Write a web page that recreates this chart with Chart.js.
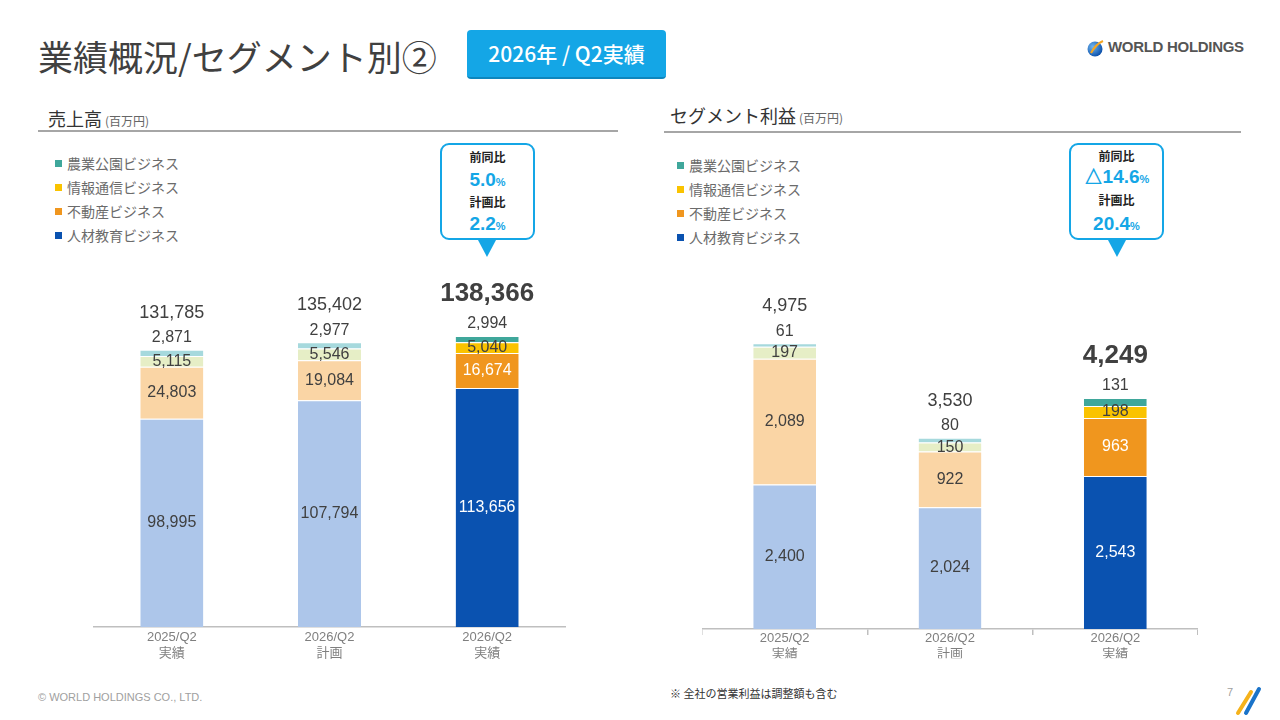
<!DOCTYPE html>
<html lang="ja">
<head>
<meta charset="utf-8">
<title>業績概況/セグメント別②</title>
<script src="https://cdn.jsdelivr.net/npm/chart.js@4.4.1/dist/chart.umd.min.js"></script>
<style>
  body { margin: 0; }
  #slide { position: relative; width: 1280px; height: 720px; background: #fff; overflow: hidden;
           font-family: "Noto Sans CJK JP", "Liberation Sans", sans-serif; color: #404040; }
  .abs { position: absolute; white-space: nowrap; }
  #title { left: 38px; top: 37px; font-size: 35px; line-height: 38px; color: #404040; }
  #badge { left: 467px; top: 30px; width: 199px; height: 47px; background: #14a6e6; border-radius: 4px;
           border-bottom: 2px solid #0d86bd; color: #fff; font-size: 21px; font-weight: 500; line-height: 47px; text-align: center; }
  #logo { left: 1087px; top: 38px; height: 20px; }
  #logo .txt { position: absolute; left: 21px; top: 0px; font-family: "Liberation Sans", sans-serif; font-weight: bold;
               font-size: 15px; color: #555; letter-spacing: -0.3px; }
  .sec { font-size: 18px; line-height: 22px; color: #333; }
  .sec small { font-size: 12px; color: #666; margin-left: 3px; }
  .rule { height: 2px; background: #a6a6a6; }
  .leg { font-size: 14px; line-height: 18px; color: #6b6b6b; }
  .leg i { display: inline-block; width: 7px; height: 7px; margin-right: 5px; vertical-align: 2px; }
  .call { width: 91px; height: 93px; border: 2px solid #14a6e6; border-radius: 9px; background: #fff; }
  .call div { position: absolute; left: 0; width: 91px; text-align: center; }
  .call .h { font-size: 12px; font-weight: bold; color: #222; line-height: 16px; }
  .call .v { font-family: "Liberation Sans", sans-serif; font-size: 19px; font-weight: bold; color: #14a6e6; line-height: 22px; }
  .call .v span { font-size: 11px; }
  .ptr { width: 0; height: 0; border-left: 9px solid transparent; border-right: 9px solid transparent; border-top: 17px solid #14a6e6; }
  canvas { position: absolute; }
  .foot { font-size: 11px; color: #a0a0a0; }
</style>
</head>
<body>
<div id="slide">
  <div id="title" class="abs">業績概況/セグメント別②</div>
  <div id="badge" class="abs">2026年 / Q2実績</div>
  <div id="logo" class="abs">
    <svg width="18" height="20" style="position:absolute;left:0;top:0">
      <defs><radialGradient id="g" cx="35%" cy="35%" r="70%"><stop offset="0" stop-color="#6fb6f0"/><stop offset="1" stop-color="#0a4ea8"/></radialGradient></defs>
      <circle cx="8" cy="11" r="7.5" fill="url(#g)"/>
      <path d="M4 15 Q9 6 16 3" stroke="#f5a623" stroke-width="2.2" fill="none"/>
    </svg>
    <span class="txt">WORLD HOLDINGS</span>
  </div>

  <div class="abs sec" style="left:48px;top:107px">売上高<small>(百万円)</small></div>
  <div class="abs rule" style="left:38px;top:130px;width:580px"></div>
  <div class="abs sec" style="left:670px;top:104px">セグメント利益<small>(百万円)</small></div>
  <div class="abs rule" style="left:664px;top:131px;width:577px"></div>

  <div class="abs leg" style="left:55px;top:154px">
    <div style="height:24px"><i style="background:#3fa79b"></i>農業公園ビジネス</div>
    <div style="height:24px"><i style="background:#fac300"></i>情報通信ビジネス</div>
    <div style="height:24px"><i style="background:#f0961e"></i>不動産ビジネス</div>
    <div style="height:24px"><i style="background:#0a52b0"></i>人材教育ビジネス</div>
  </div>
  <div class="abs leg" style="left:677px;top:156px">
    <div style="height:24px"><i style="background:#3fa79b"></i>農業公園ビジネス</div>
    <div style="height:24px"><i style="background:#fac300"></i>情報通信ビジネス</div>
    <div style="height:24px"><i style="background:#f0961e"></i>不動産ビジネス</div>
    <div style="height:24px"><i style="background:#0a52b0"></i>人材教育ビジネス</div>
  </div>

  <div class="abs call" style="left:440px;top:143px">
    <div class="h" style="top:4px">前同比</div>
    <div class="v" style="top:24px">5.0<span>%</span></div>
    <div class="h" style="top:49px">計画比</div>
    <div class="v" style="top:68px">2.2<span>%</span></div>
  </div>
  <div class="abs ptr" style="left:478px;top:240px"></div>
  <div class="abs call" style="left:1069px;top:143px">
    <div class="h" style="top:3px">前同比</div>
    <div class="v" style="top:21px">△14.6<span>%</span></div>
    <div class="h" style="top:47px">計画比</div>
    <div class="v" style="top:68px">20.4<span>%</span></div>
  </div>
  <div class="abs ptr" style="left:1108px;top:240px"></div>

  <canvas id="sales" width="473" height="420" style="left:93px;top:260px"></canvas>
  <canvas id="profit" width="496" height="410" style="left:702px;top:270px"></canvas>

  <div class="abs foot" style="left:38px;top:691px;font-family:'Liberation Sans',sans-serif">© WORLD HOLDINGS CO., LTD.</div>
  <div class="abs" style="left:670px;top:685px;font-size:11px;color:#333">※ 全社の営業利益は調整額も含む</div>
  <div class="abs foot" style="left:1227px;top:686px;font-family:'Liberation Sans',sans-serif">7</div>
  <svg class="abs" style="left:1234px;top:684px" width="30" height="32">
    <line x1="4" y1="29" x2="17" y2="8" stroke="#f5b21b" stroke-width="4" stroke-linecap="round"/>
    <line x1="12" y1="29" x2="25" y2="5" stroke="#1a73c9" stroke-width="4" stroke-linecap="round"/>
  </svg>
</div>

<script>
const categories = [['2025/Q2', '実績'], ['2026/Q2', '計画'], ['2026/Q2', '実績']];
const segmentNames = ['人材教育ビジネス', '不動産ビジネス', '情報通信ビジネス', '農業公園ビジネス'];

// 売上高 (百万円)
const salesJinzai = [98995, 107794, 113656];
const salesFudosan = [24803, 19084, 16674];
const salesJoho = [5115, 5546, 5040];
const salesNogyo = [2871, 2977, 2994];
const salesTotal = [131785, 135402, 138366];

// セグメント利益 (百万円)
const profitJinzai = [2400, 2024, 2543];
const profitFudosan = [2089, 922, 963];
const profitJoho = [197, 150, 198];
const profitNogyo = [61, 80, 131];
const profitTotal = [4975, 3530, 4249];

// light = 2025実績 / 2026計画, dark = 2026実績
const segColors = [
    ['#adc6ea', '#adc6ea', '#0a52b0'],
    ['#fad5a5', '#fad5a5', '#f0961e'],
    ['#e6eec6', '#e6eec6', '#fac300'],
    ['#a6d9dd', '#a6d9dd', '#3fa79b']
];
const labelColors = [
    ['#404040', '#404040', '#ffffff'],
    ['#404040', '#404040', '#ffffff'],
    ['#404040', '#404040', '#404040'],
    ['#404040', '#404040', '#404040']
];

const NUM_FONT = '"Liberation Sans", Arial, sans-serif';
Chart.defaults.font.family = '"Liberation Sans", "Noto Sans CJK JP", sans-serif';

function fmt(v) {
    return v.toLocaleString('en-US');
}

// draws segment values and the total above every bar
function makeLabelPlugin(totals) {
    return {
        id: 'barLabels',
        afterDatasetsDraw(chart) {
            const ctx = chart.ctx;
            ctx.save();
            ctx.textAlign = 'center';
            ctx.textBaseline = 'middle';
            const last = chart.data.datasets.length - 1;
            chart.data.datasets.forEach((ds, di) => {
                const meta = chart.getDatasetMeta(di);
                meta.data.forEach((bar, i) => {
                    ctx.font = '16px ' + NUM_FONT;
                    ctx.fillStyle = labelColors[di][i];
                    const y = di === last ? bar.y - 12 : (bar.y + bar.base) / 2;
                    ctx.fillText(fmt(ds.data[i]), bar.x, y);
                    if (di === last) {
                        const bold = i === totals.length - 1;
                        ctx.font = bold ? 'bold 26px ' + NUM_FONT : '18px ' + NUM_FONT;
                        ctx.fillStyle = '#404040';
                        ctx.fillText(fmt(totals[i]), bar.x, bar.y - (bold ? 42 : 37));
                    }
                });
            });
            ctx.restore();
        }
    };
}

function buildChart(id, series, totals, yMax, opts) {
    const datasets = series.map((data, di) => ({
        label: segmentNames[di],
        data: data,
        backgroundColor: segColors[di],
        borderColor: '#ffffff',
        borderWidth: { top: 1, left: 0, right: 0, bottom: 0 },
        borderSkipped: false,
        barPercentage: opts.barPct,
        categoryPercentage: 1
    }));
    return new Chart(document.getElementById(id), {
        type: 'bar',
        data: { labels: categories, datasets: datasets },
        options: {
            responsive: false,
            animation: false,
            layout: { padding: { top: 20, bottom: opts.padBottom, left: 0, right: 0 } },
            plugins: { legend: { display: false }, tooltip: { enabled: false } },
            scales: {
                x: {
                    stacked: true,
                    grid: opts.ticks
                        ? { display: true, drawOnChartArea: false, drawTicks: true, tickLength: 6, color: '#bfbfbf', lineWidth: 1.5 }
                        : { display: false, drawTicks: false },
                    border: { display: true, color: '#bfbfbf', width: 1.5 },
                    ticks: { color: '#7f7f7f', font: { size: 13 }, padding: opts.tickPad, maxRotation: 0 }
                },
                y: { stacked: true, display: false, min: 0, max: yMax }
            }
        },
        plugins: [makeLabelPlugin(totals)]
    });
}

buildChart('sales', [salesJinzai, salesFudosan, salesJoho, salesNogyo], salesTotal, 165000,
    { barPct: 0.4, padBottom: 15.8, ticks: false, tickPad: 3 });
buildChart('profit', [profitJinzai, profitFudosan, profitJoho, profitNogyo], profitTotal, 5630,
    { barPct: 0.38, padBottom: 21.8, ticks: true, tickPad: -4 });
</script>
</body>
</html>
